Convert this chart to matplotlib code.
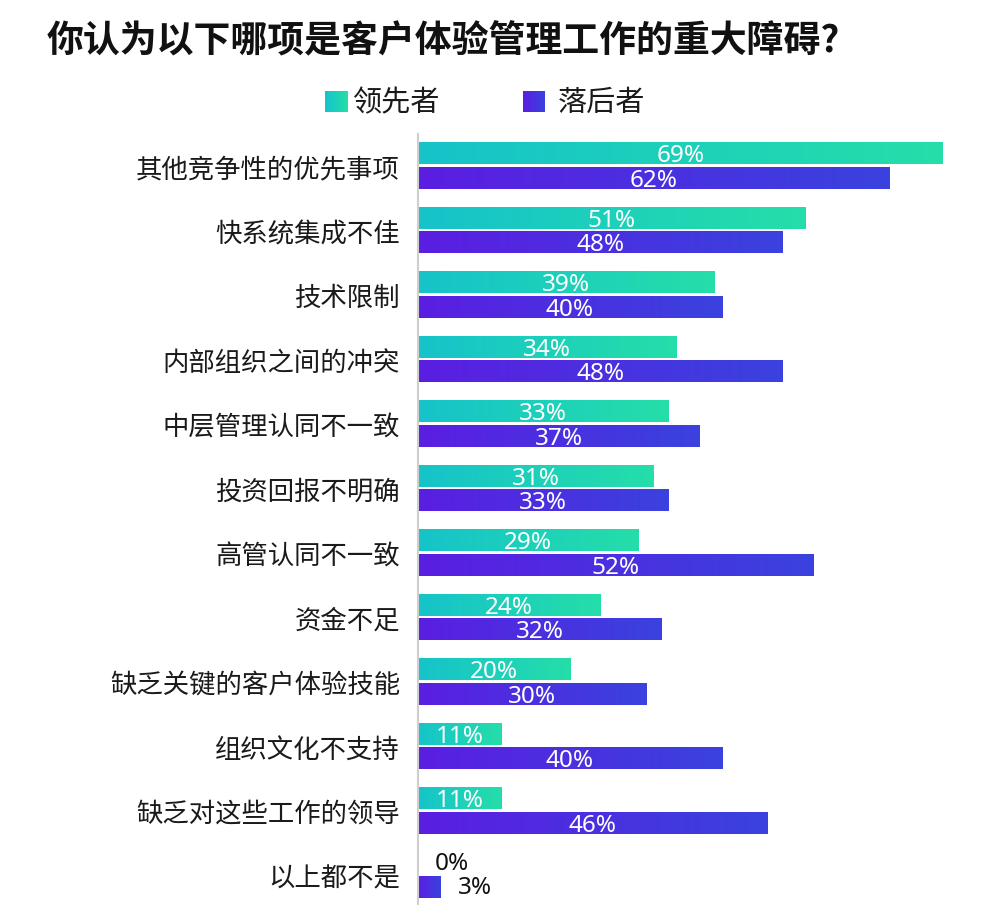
import numpy as np
import matplotlib
matplotlib.use("Agg")
import matplotlib.pyplot as plt
from matplotlib.colors import LinearSegmentedColormap

plt.rcParams['font.family'] = ['Noto Sans CJK SC', 'DejaVu Sans']

# data
categories = ["其他竞争性的优先事项", "快系统集成不佳", "技术限制", "内部组织之间的冲突",
              "中层管理认同不一致", "投资回报不明确", "高管认同不一致", "资金不足",
              "缺乏关键的客户体验技能", "组织文化不支持", "缺乏对这些工作的领导", "以上都不是"]
leaders = [69, 51, 39, 34, 33, 31, 29, 24, 20, 11, 11, 0]
laggards = [62, 48, 40, 48, 37, 33, 52, 32, 30, 40, 46, 3]
series_names = ["领先者", "落后者"]

teal_cmap = LinearSegmentedColormap.from_list("teal", ["#16c3ca", "#25dea9"])
purple_cmap = LinearSegmentedColormap.from_list("purple", ["#5b1ee2", "#3a42de"])
grad = np.linspace(0, 1, 256).reshape(1, -1)

fig = plt.figure(figsize=(10, 9.2), dpi=100)
ax = fig.add_axes([0.418, 0.0058, 0.542, 0.848])

bar_h = 0.34
off = 0.19
label_font = dict(family=['Noto Sans', 'DejaVu Sans'], fontsize=17.5)


def draw_bar(value, yc, cmap):
    if value <= 0:
        return
    ax.imshow(grad, extent=[0, value, yc + bar_h / 2, yc - bar_h / 2],
              aspect='auto', cmap=cmap, interpolation='bicubic', zorder=2)


def draw_label(value, yc):
    if value < 5:
        ax.text(value + 2.2, yc, f"{value}%", ha='left', va='center',
                color='#111111', **label_font)
    else:
        ax.text(value / 2, yc + 0.03, f"{value}%", ha='center', va='center',
                color='white', **label_font)


for i, (a, b) in enumerate(zip(leaders, laggards)):
    draw_bar(a, i - off, teal_cmap)
    draw_bar(b, i + off, purple_cmap)
    draw_label(a, i - off)
    draw_label(b, i + off)

ax.set_xlim(0, 71.3)
ax.set_ylim(11.6, -0.5)
ax.set_yticks(range(len(categories)))
ax.set_yticklabels(categories, fontsize=19, color='#1a1a1a')
ax.tick_params(axis='y', length=0, pad=13)
ax.set_xticks([])
for s in ['top', 'right', 'bottom']:
    ax.spines[s].set_visible(False)
ax.spines['left'].set_color('#cfcfcf')
ax.spines['left'].set_linewidth(1.5)
ax.spines['left'].set_bounds(11.45, -0.5)

# title
fig.text(0.047, 1 - 42 / 920, "你认为以下哪项是客户体验管理工作的重大障碍?",
         fontsize=26.6, fontweight='heavy', color='#111111', va='center', ha='left')

# legend with gradient squares
for x0, cmap, name, tx in [(325, teal_cmap, series_names[0], 352),
                           (523, purple_cmap, series_names[1], 558)]:
    lax = fig.add_axes([x0 / 1000, 1 - 113 / 920, 22 / 1000, 21 / 920])
    lax.imshow(grad, aspect='auto', cmap=cmap, interpolation='bicubic')
    lax.axis('off')
    fig.text(tx / 1000, 1 - 103 / 920, name, fontsize=21, color='#1a1a1a',
             va='center', ha='left')

fig.savefig("out.png", dpi=100)
